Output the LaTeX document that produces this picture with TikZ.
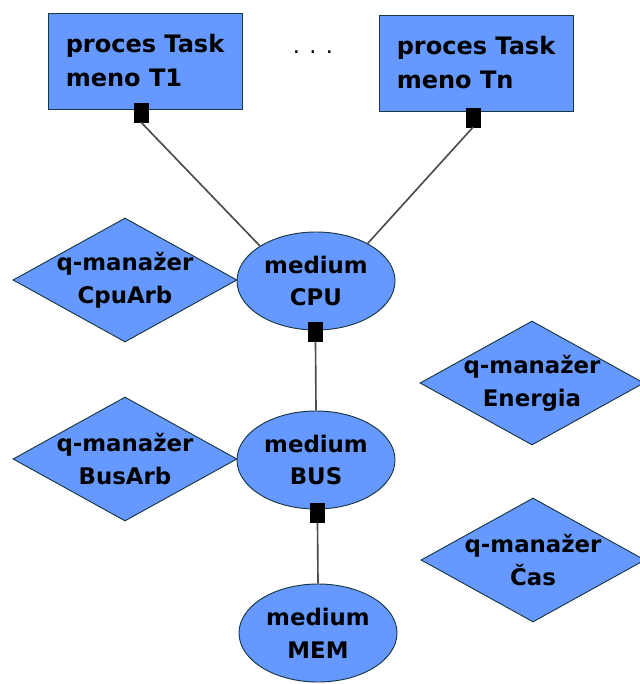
\documentclass[tikz,border=0pt]{standalone}
\usepackage{fontspec}
\setmainfont{DejaVu Sans}
\usetikzlibrary{shapes.geometric}
\definecolor{qblue}{RGB}{102,153,255}
\definecolor{qedge}{RGB}{25,55,65}
\tikzset{>=latex}
\tikzstyle{obj}=[draw=qedge,fill=qblue,line width=0.8,inner sep=0,
                 font=\bfseries\fontsize{19.5}{28}\selectfont,align=center]
\tikzstyle{proc}=[obj,rectangle,align=left,
                  font=\bfseries\fontsize{20.5}{29}\selectfont,
                  minimum width=5.82cm,minimum height=2.88cm]
\tikzstyle{medium}=[obj,ellipse,minimum width=4.74cm,minimum height=2.94cm]
\tikzstyle{qman}=[obj,diamond,shape aspect=1.8,inner sep=-6pt,
                  minimum width=6.72cm,minimum height=3.72cm]
\tikzstyle{port}=[draw=black,fill=black,inner sep=0,
                  minimum width=0.42cm,minimum height=0.57cm]
\tikzstyle{link}=[draw=black!70,line width=1.4]

\begin{document}
\begin{tikzpicture}[x=0.03cm,y=-0.03cm]
  \useasboundingbox (0,0) rectangle (639,684);

  % TASKS
  \node[proc] (t1) at (145,61) {proces Task\\meno T1};
  \node[proc] (tn) at (476,63) {proces Task\\meno Tn};
  \node[font=\fontsize{19}{28}\selectfont] (dots) at (313,52) {. . .};

  % MEDIA
  \node[medium] (cpu) at (316,281) {medium\\CPU};
  \node[medium] (bus) at (316,460) {medium\\BUS};
  \node[medium] (mem) at (318,633) {medium\\MEM};

  % Q-MANAGERS
  \node[qman] (cpuarb) at (125,280) {q-manažer\\CpuArb};
  \node[qman] (busarb) at (125,459) {q-manažer\\BusArb};
  \node[qman] (energia) at (532,383) {q-manažer\\Energia};
  \node[qman] (cas) at (533,560) {q-manažer\\Čas};

  % PORTS
  \node[port] (t1p) at (141,112.5) {};
  \node[port] (tnp) at (473,117.5) {};
  \node[port] (cpup) at (315.5,332) {};
  \node[port] (busp) at (317.5,513) {};

  % LINKS
  \draw[link] (t1p.south) -- (cpu.148);
  \draw[link] (tnp.south) -- (cpu.36);
  \draw[link] (cpup.south) -- (bus.north);
  \draw[link] (busp.south) -- (mem.north);

\end{tikzpicture}
\end{document}
